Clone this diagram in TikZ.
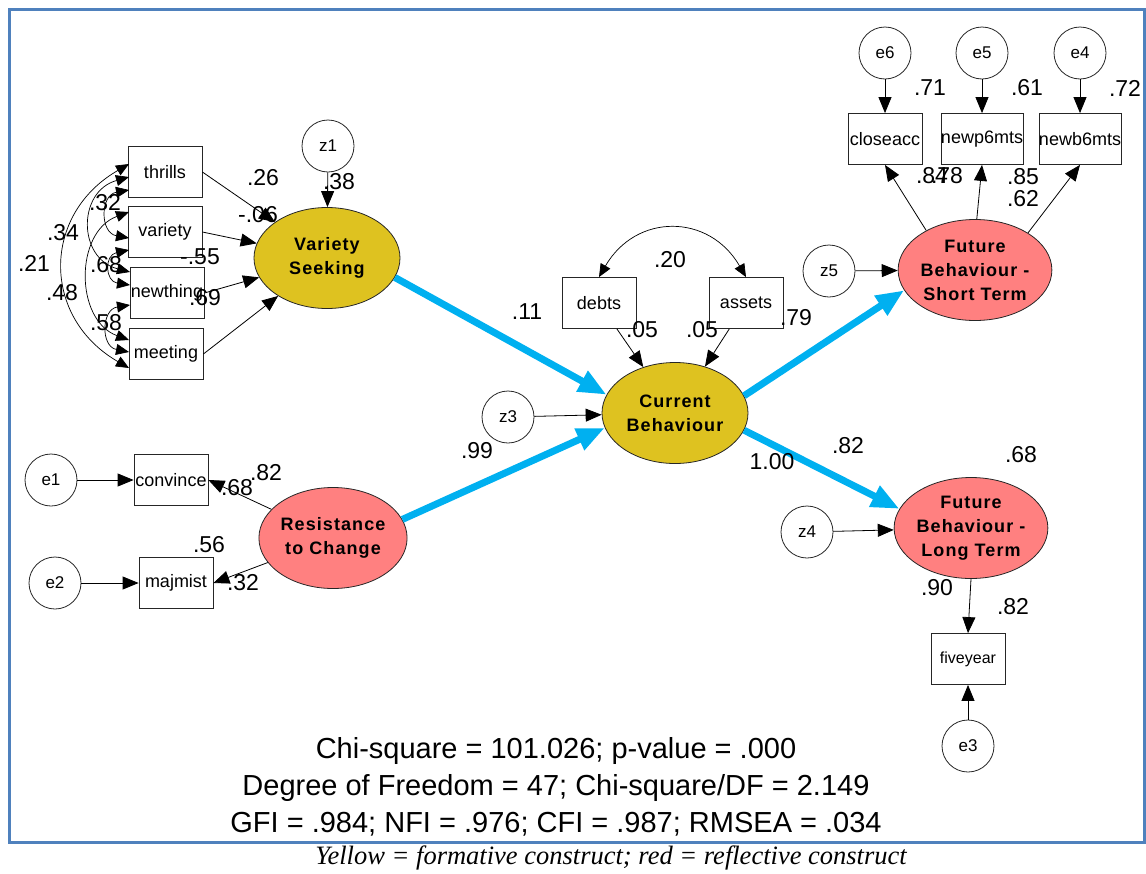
\documentclass[tikz,border=0pt]{standalone}
\usepackage{fontspec}
\setmainfont{Liberation Sans}
\newfontfamily\latfont[LetterSpace=6]{Liberation Sans}
\newfontfamily\capfont{Liberation Serif}
\usetikzlibrary{shapes.geometric,arrows.meta}
\definecolor{framec}{HTML}{4F81BD}
\definecolor{yellowc}{HTML}{DEC220}
\definecolor{redc}{HTML}{FF8080}
\definecolor{bluec}{HTML}{00B0F0}
\tikzset{
  lbl/.style={inner sep=0pt, font=\fontsize{23}{26}\selectfont},
  obs/.style={draw=black!85, line width=0.8pt, minimum width=74pt, minimum height=51pt, inner sep=0pt, font=\fontsize{18}{20}\selectfont},
  errc/.style={circle, draw=black!85, line width=0.8pt, minimum size=52pt, inner sep=0pt, font=\fontsize{17}{18}\selectfont},
  latent/.style={ellipse, draw=black!85, line width=0.8pt, minimum width=146pt, minimum height=101pt, inner sep=0pt, align=center, font=\latfont\bfseries\fontsize{18}{24}\selectfont},
  formc/.style={latent, fill=yellowc},
  reflc/.style={latent, fill=redc},
  arr/.style={-{Triangle[length=16pt,width=13pt]}, line width=0.8pt},
  covarr/.style={{Triangle[length=13pt,width=11pt]}-{Triangle[length=13pt,width=11pt]}, line width=0.7pt},
  barr/.style={-{Triangle[length=28pt,width=22pt]}, line width=7pt, draw=bluec, color=bluec},
}
\begin{document}
\begin{tikzpicture}[x=1pt,y=-1pt]
\useasboundingbox (0,0) rectangle (1146,873);
\draw[framec, line width=3pt] (9,9) rectangle (1144,842);

% left observed
\node[obs] (thrills) at (165,172) {thrills};
\node[obs] (variety) at (165,232) {variety};
\node[obs] (newthing) at (167,293) {newthing};
\node[obs] (meeting) at (166,354) {meeting};
\node[formc] (VS) at (327,258) {Variety\\Seeking};
\node[errc] (z1) at (328,146) {z1};

% resistance
\node[obs] (convince) at (171,480) {convince};
\node[obs] (majmist) at (176,583) {majmist};
\node[errc] (e1) at (51,480) {e1};
\node[errc] (e2) at (55,583) {e2};
\node[reflc] (RC) at (333,538) {Resistance\\to Change};

% current
\node[formc] (CB) at (675,413) {Current\\Behaviour};
\node[obs] (debts) at (599,303) {debts};
\node[obs] (assets) at (746,303) {assets};
\node[errc] (z3) at (508,417) {z3};

% future short
\node[reflc] (FBST) at (975,270) {Future\\Behaviour -\\Short Term};
\node[errc] (z5) at (829,271) {z5};
\node[obs] (closeacc) at (885,139) {closeacc};
\node[obs] (newp6mts) at (982,139) {newp6mts};
\node[obs] (newb6mts) at (1080,139) {newb6mts};
\node[errc] (e6) at (885,53) {e6};
\node[errc] (e5) at (982,53) {e5};
\node[errc] (e4) at (1080,53) {e4};

% future long
\node[reflc] (FBLT) at (971,528) {Future\\Behaviour -\\Long Term};
\node[errc] (z4) at (807,532) {z4};
\node[obs, font=\fontsize{16}{18}\selectfont] (fiveyear) at (968,659) {fiveyear};
\node[errc] (e3) at (968,746) {e3};

% coordinates for covariance arcs
\coordinate (t1) at (129,164);
\coordinate (t2) at (129,177);
\coordinate (t3) at (129,190);
\coordinate (v1) at (129,212);
\coordinate (v2) at (129,238);
\coordinate (v3) at (129,250);
\coordinate (n1) at (130,272);
\coordinate (n2) at (130,285);
\coordinate (n3) at (130,305);
\coordinate (m1) at (129,340);
\coordinate (m2) at (129,352);
\coordinate (m3) at (129,368);

\draw[covarr] (t1) to[bend right=60, looseness=1.27] (m3);
\draw[covarr] (t2) to[bend right=75, looseness=1.45] (n1);
\draw[covarr] (v1) to[bend right=70, looseness=1.16] (m1);
\draw[covarr] (t3) to[bend right=80, looseness=1.58] (v2);
\draw[covarr] (v3) to[bend right=80, looseness=1.85] (n2);
\draw[covarr] (n3) to[bend right=80, looseness=1.58] (m2);

% paths into VS
\draw[arr] (thrills.east) -- (VS);
\draw[arr] (variety.east) -- (VS);
\draw[arr] (newthing.east) -- (VS);
\draw[arr] (meeting.east) -- (VS);
\draw[arr] (z1) -- (VS);

% resistance
\draw[arr] (RC) -- (convince.east);
\draw[arr] (RC) -- (majmist.east);
\draw[arr] (e1) -- (convince.west);
\draw[arr] (e2) -- (majmist.west);

% current
\draw[arr] (debts) -- (CB);
\draw[arr] (assets) -- (CB);
\draw[arr] (z3) -- (CB);
\draw[covarr] (debts.north) to[bend left=60, looseness=1.29] (assets.north);

% future short
\draw[arr] (z5) -- (FBST);
\draw[arr] (FBST.141) -- (closeacc.south);
\draw[arr] (FBST.88) -- (newp6mts.south);
\draw[arr] (FBST.35) -- (newb6mts.south);
\draw[arr] (e6) -- (closeacc.north);
\draw[arr] (e5) -- (newp6mts.north);
\draw[arr] (e4) -- (newb6mts.north);

% future long
\draw[arr] (z4) -- (FBLT);
\draw[arr] (FBLT.south) -- (fiveyear.north);
\draw[arr] (e3) -- (fiveyear.south);

% blue structural paths
\draw[barr] (VS.-16) -- (CB.165);
\draw[barr] (RC.15) -- (CB.192);
\draw[barr] (CB.14) -- (FBST.196);
\draw[barr] (CB.-14) -- (FBLT.165);

% labels
\node[lbl] (l26) at (263,178) {.26};
\node[lbl] (l06) at (258,215) {-.06};
\node[lbl] (l55) at (200,257) {-.55};
\node[lbl] (l69) at (205,298) {.69};
\node[lbl] (l38) at (339,182) {.38};
\node[lbl] (l32a) at (105,203) {.32};
\node[lbl] (l34) at (63,233) {.34};
\node[lbl] (l21) at (34,263) {.21};
\node[lbl] (l48) at (62,293) {.48};
\node[lbl] (l68a) at (106,265) {.68};
\node[lbl] (l58) at (106,323) {.58};
\node[lbl] (l20) at (670,260) {.20};
\node[lbl] (l11) at (527,312) {.11};
\node[lbl] (l05a) at (642,330) {.05};
\node[lbl] (l05b) at (702,330) {.05};
\node[lbl] (l79) at (796,318) {.79};
\node[lbl] (l99) at (477,451) {.99};
\node[lbl] (l100) at (772,462) {1.00};
\node[lbl] (l82a) at (848,446) {.82};
\node[lbl] (l68b) at (1021,455) {.68};
\node[lbl] (l90) at (937,588) {.90};
\node[lbl] (l82b) at (1013,607) {.82};
\node[lbl] (l71) at (930,88) {.71};
\node[lbl] (l61) at (1027,88) {.61};
\node[lbl] (l72) at (1125,88) {.72};
\node[lbl] (l84) at (932,176) {.84};
\node[lbl] (l78) at (947,176) {.78};
\node[lbl] (l85) at (1023,177) {.85};
\node[lbl] (l62) at (1023,199) {.62};
\node[lbl] (l82c) at (266,473) {.82};
\node[lbl] (l68c) at (237,488) {.68};
\node[lbl] (l56) at (209,545) {.56};
\node[lbl] (l32b) at (243,583) {.32};

% fit statistics
\node[inner sep=0pt, font=\fontsize{29}{37}\selectfont, align=center] (stats) at (556,787)
  {Chi-square = 101.026; p-value = .000\\Degree of Freedom = 47; Chi-square/DF = 2.149\\GFI = .984; NFI = .976; CFI = .987; RMSEA = .034};
\node[inner sep=0pt, font=\capfont\itshape\fontsize{26.5}{30}\selectfont] (caption) at (611,858)
  {Yellow = formative construct; red = reflective construct};
\end{tikzpicture}
\end{document}
